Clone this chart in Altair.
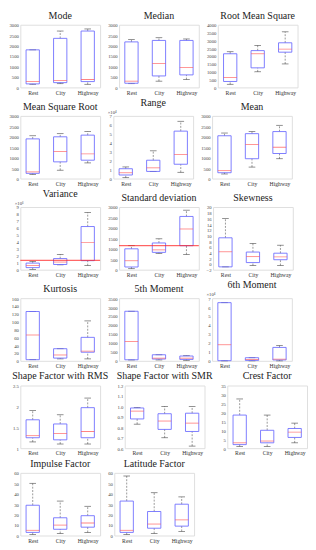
import altair as alt
import pandas as pd

CATS = ["Rest", "City", "Highway"]

# per category: [whisker_low, q1, median, q3, whisker_high]
MODE = [[150, 170, 280, 1800, 1800], [180, 230, 330, 2350, 2700], [150, 280, 380, 2700, 2800]]
MEDIAN = [[180, 200, 300, 2180, 2300], [300, 550, 1150, 2250, 2380], [380, 600, 950, 2250, 2320]]
RMS = [[200, 380, 630, 2150, 2280], [1000, 1250, 2150, 2350, 2680], [1500, 2250, 2450, 2850, 3550]]
MSR = [[200, 250, 320, 1900, 2050], [400, 800, 1300, 2000, 2150], [750, 880, 1180, 2080, 2250]]
RANGE = [[0.1, 0.4, 0.65, 1.1, 1.3], [0.8, 0.8, 1.2, 2.05, 3.1], [0.7, 1.6, 2.7, 5.3, 6.4]]
MEAN = [[220, 280, 380, 2050, 2180], [550, 950, 1630, 2150, 2250], [950, 1200, 1500, 2250, 2550]]
VARIANCE = [[0.05, 0.3, 0.6, 0.95, 1.2], [0.7, 0.75, 1.1, 1.6, 2.2], [0.6, 1.3, 3.9, 6.2, 8.2]]
STD = [[50, 130, 430, 1000, 1150], [780, 830, 950, 1280, 1480], [730, 1150, 1950, 2550, 2850]]
SKEW = [[-1, -1, 4.3, 9.2, 16], [-0.5, 0.5, 2.6, 4.2, 7.2], [-0.5, 1.5, 2.5, 3.8, 6.6]]
KURT = [[3, 3, 66, 126, 126], [5, 7, 15, 31, 31], [5, 22, 25, 60, 102]]
M5 = [[50, 60, 1080, 2770, 2770], [50, 100, 150, 340, 340], [30, 80, 150, 270, 290]]
M6 = [[0, 0.02, 1.8, 6.5, 6.5], [0, 0.05, 0.15, 0.35, 0.35], [0, 0.1, 0.2, 1.5, 1.7]]
SF_RMS = [[1.15, 1.25, 1.3, 1.68, 1.9], [1.1, 1.2, 1.35, 1.58, 1.8], [1.1, 1.25, 1.4, 1.97, 2.2]]
SF_SMR = [[0.83, 0.88, 0.955, 0.985, 0.99], [0.7, 0.78, 0.86, 0.93, 1.0], [0.62, 0.76, 0.84, 0.935, 1.0]]
CREST = [[1, 2, 3, 18.5, 27.5], [1, 3, 4, 10, 18.5], [3, 6, 9, 11, 14]]
IMPULSE = [[1, 3, 5, 29, 50], [2, 6, 10, 17, 33], [3, 8, 12, 19, 28]]
LATITUDE = [[1, 3, 5, 33, 57], [2, 7, 11, 23, 41], [4, 9, 15, 30, 37]]

VAR_THRESHOLD = 1.35
STD_THRESHOLD = 1150

W, H = 84, 66
SERIF = "Liberation Serif"


def ticks(lo, hi, step):
    out, v = [], lo
    while v <= hi + 1e-9:
        out.append(round(v, 6))
        v += step
    return out


def panel(title, stats, domain, step, exp=None, thr=None):
    df = pd.DataFrame(
        [dict(cat=c, lo=s[0], q1=s[1], med=s[2], q3=s[3], hi=s[4]) for c, s in zip(CATS, stats)]
    )
    xenc = alt.X(
        "cat:N", sort=CATS, title=None,
        scale=alt.Scale(type="point", padding=0.45),
        axis=alt.Axis(labelAngle=0, labelFontSize=6, labelFont=SERIF, labelColor="#333",
                      ticks=False, domain=False, labelPadding=2),
    )
    yscale = alt.Scale(domain=domain, nice=False, zero=False)
    fmt = "d" if step >= 1 else ".1f"
    if step == 0.5:
        fmt = "~r"
    yaxis = alt.Axis(values=ticks(domain[0], domain[1], step), format=fmt, labelOverlap=False,
                     labelFontSize=5, labelFont=SERIF, labelColor="#444",
                     ticks=False, domain=False, grid=False, labelPadding=2)

    def Y(f):
        return alt.Y(f, type="quantitative", scale=yscale, axis=yaxis, title=None)

    base = alt.Chart(df).encode(x=xenc)
    wl = base.mark_rule(strokeDash=[2, 1.5], color="#666", strokeWidth=0.7).encode(
        y=Y("lo"), y2="q1")
    wh = base.mark_rule(strokeDash=[2, 1.5], color="#666", strokeWidth=0.7).encode(
        y=Y("q3"), y2="hi")
    cl = base.mark_tick(size=7, thickness=0.8, color="#333").encode(y=Y("lo"))
    ch = base.mark_tick(size=7, thickness=0.8, color="#333").encode(y=Y("hi"))
    box = base.mark_bar(size=14, fillOpacity=0, stroke="#6a6aff", strokeWidth=0.9).encode(
        y=Y("q1"), y2="q3")
    med = base.mark_tick(size=14, thickness=0.9, color="#ff5050").encode(y=Y("med"))
    layers = [wl, wh, cl, ch, box, med]
    if thr is not None:
        layers.append(
            alt.Chart(pd.DataFrame({"t": [thr]})).mark_rule(color="#ff2020", strokeWidth=0.9)
            .encode(y=Y("t")))
    if exp is not None:
        layers.append(
            alt.Chart(pd.DataFrame({"e": [exp]})).mark_text(
                align="left", baseline="bottom", fontSize=5, font=SERIF, color="#444")
            .encode(text="e:N", x=alt.value(-6), y=alt.value(-1)))
    return alt.layer(*layers).properties(
        width=W, height=H,
        title=alt.TitleParams(title, fontSize=10.5, font=SERIF, fontWeight="normal",
                              color="#222", offset=2))


rows = [
    [panel("Mode", MODE, [0, 3000], 500), panel("Median", MEDIAN, [0, 3000], 500),
     panel("Root Mean Square", RMS, [0, 4000], 500)],
    [panel("Mean Square Root", MSR, [0, 3000], 500), panel("Range", RANGE, [0, 7], 1, exp="×10⁴"),
     panel("Mean", MEAN, [0, 3000], 500)],
    [panel("Variance", VARIANCE, [0, 9], 1, exp="×10⁶", thr=VAR_THRESHOLD),
     panel("Standard deviation", STD, [0, 3000], 500, thr=STD_THRESHOLD),
     panel("Skewness", SKEW, [-2, 20], 2)],
    [panel("Kurtosis", KURT, [0, 160], 20), panel("5th Moment", M5, [0, 3500], 500),
     panel("6th Moment", M6, [0, 7], 1, exp="×10⁴")],
    [panel("Shape Factor with RMS", SF_RMS, [1, 2.5], 0.5),
     panel("Shape Factor with SMR", SF_SMR, [0.6, 1.2], 0.1),
     panel("Crest Factor", CREST, [0, 35], 5)],
    [panel("Impulse Factor", IMPULSE, [0, 60], 10), panel("Latitude Factor", LATITUDE, [0, 60], 10)],
]

chart = alt.vconcat(*[alt.hconcat(*r, spacing=6) for r in rows], spacing=2).properties(
    padding={"top": -12, "left": 0, "right": 0, "bottom": 0}
).configure_view(stroke="#a8a8a8", strokeWidth=0.8).configure(background="white")

chart.save("out.html", embed_options={"renderer": "svg", "actions": False})
